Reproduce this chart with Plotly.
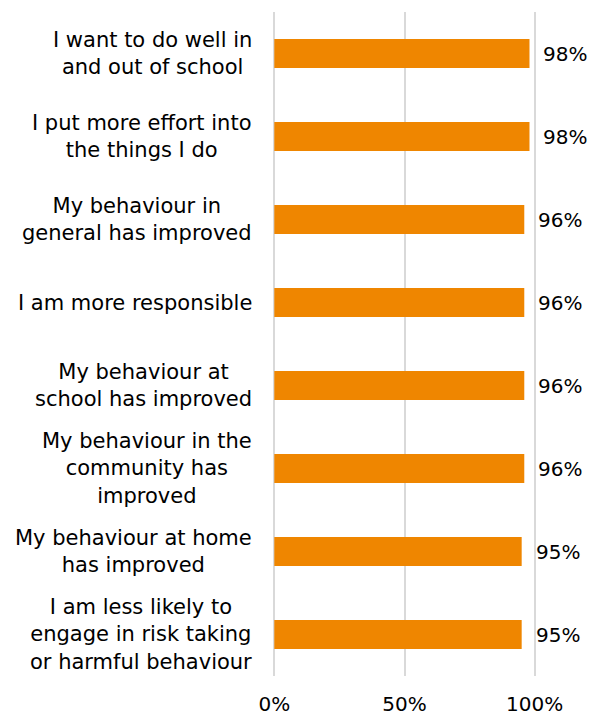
import plotly.graph_objects as go

# Survey statements (top to bottom) and share agreeing, in percent
statements = [
    "I want to do well in<br>and out of school",
    "I put more effort into<br>the things I do",
    "My behaviour in<br>general has improved",
    "I am more responsible",
    "My behaviour at<br>school has improved",
    "My behaviour in the<br>community has<br>improved",
    "My behaviour at home<br>has improved",
    "I am less likely to<br>engage in risk taking<br>or harmful behaviour",
]
agree_pct = [98, 98, 96, 96, 96, 96, 95, 95]
x_ticks = [0, 50, 100]
x_tick_labels = ["0%", "50%", "100%"]

FONT = "DejaVu Sans"
BAR_COLOUR = "#EF8600"
ids = list(range(len(statements)))

fig = go.Figure(
    go.Bar(
        x=agree_pct,
        y=ids,
        orientation="h",
        marker=dict(color=BAR_COLOUR, line=dict(width=0)),
        width=0.35,
        hoverinfo="skip",
    )
)

annotations = []
# Statement labels: right-aligned block, lines centred within it
for i, s in zip(ids, statements):
    annotations.append(dict(
        x=0, xref="paper", y=i, yref="y",
        text=s, showarrow=False,
        xanchor="right", yanchor="middle", align="center",
        xshift=-19,
        font=dict(family=FONT, size=21, color="#000000"),
    ))
# Value labels next to each bar
for i, v in zip(ids, agree_pct):
    annotations.append(dict(
        x=v, xref="x", y=i, yref="y",
        text=f"{v}%", showarrow=False,
        xanchor="left", yanchor="middle",
        xshift=12,
        font=dict(family=FONT, size=20, color="#000000"),
    ))

fig.update_layout(
    width=592, height=716,
    margin=dict(l=273, r=56, t=12, b=40),
    paper_bgcolor="white",
    plot_bgcolor="white",
    showlegend=False,
    font=dict(family=FONT, size=20, color="#000000"),
    annotations=annotations,
    xaxis=dict(
        range=[-0.5, 100.5],
        tickvals=x_ticks,
        ticktext=x_tick_labels,
        showgrid=True,
        gridcolor="#D9D9D9",
        gridwidth=2,
        zeroline=False,
        showline=False,
        ticks="",
        ticklabelstandoff=14,
        tickfont=dict(family=FONT, size=20, color="#000000"),
        automargin=False,
        fixedrange=True,
    ),
    yaxis=dict(
        range=[len(statements) - 0.5, -0.5],
        showticklabels=False,
        showgrid=False,
        zeroline=False,
        showline=False,
        ticks="",
        automargin=False,
        fixedrange=True,
    ),
)

fig.write_html("out.html")
